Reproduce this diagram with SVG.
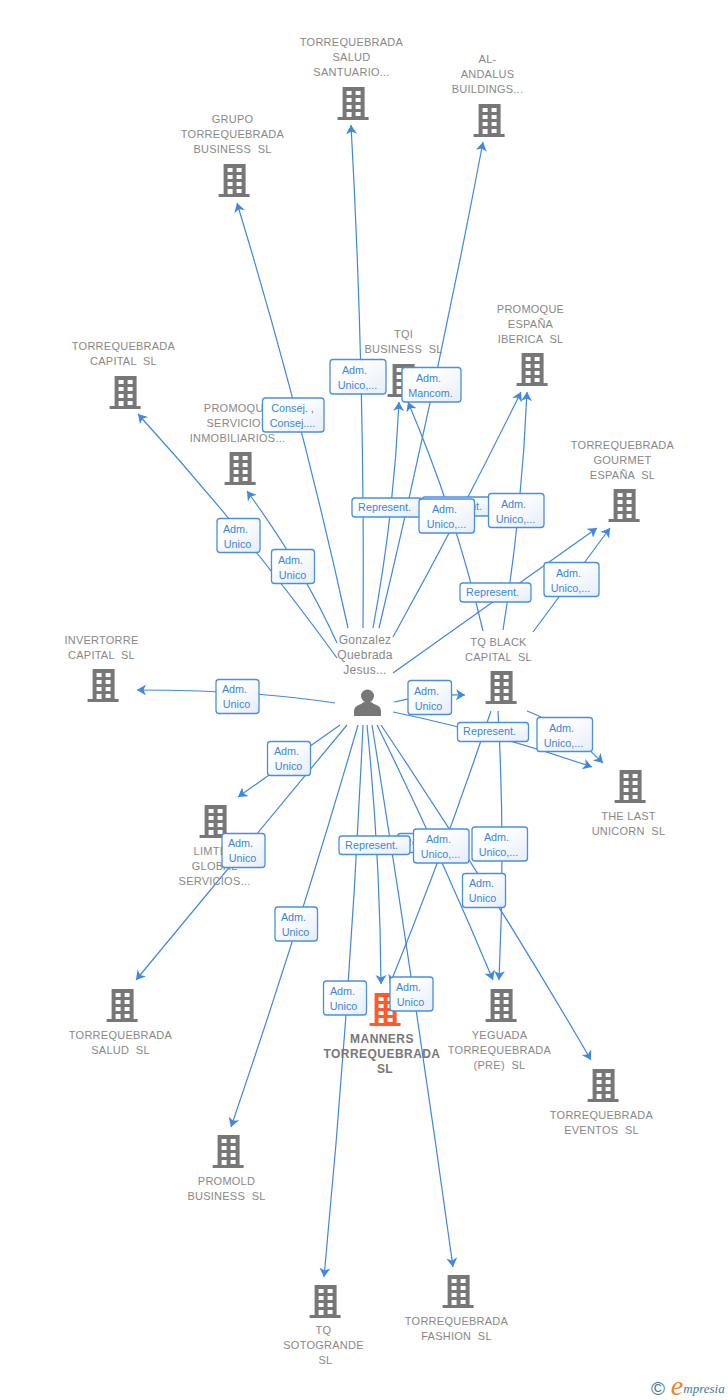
<svg xmlns="http://www.w3.org/2000/svg" width="728" height="1400" viewBox="0 0 728 1400">
<style>
text{font-family:"Liberation Sans",Arial,sans-serif;white-space:pre;text-anchor:middle}
.n{font-size:11px;fill:#888;letter-spacing:.25px;transform:translateX(.5px)}
.m{font-size:12px;fill:#777;font-weight:bold;letter-spacing:.45px}
.p{font-size:12px;fill:#888;letter-spacing:.25px}
.e{fill:none;stroke:#3f87e0;stroke-width:1.2;marker-end:url(#a)}
.b{fill:url(#g);stroke:#4a8ee2;stroke-width:1.3}
.l{font-size:10.8px;fill:#3a86e0;transform:translateX(-.5px)}
.i{fill:#777}
</style>
<defs>
<linearGradient id="g" x1="0" y1="0" x2="1" y2="1"><stop offset="0.3" stop-color="#fff"/><stop offset="1" stop-color="#e6edf8"/></linearGradient>
<marker id="a" markerUnits="userSpaceOnUse" markerWidth="12" markerHeight="14" refX="9" refY="6" orient="auto"><path d="M9,6L0,0.5L2.5,6L0,11.500Z" fill="#3f87e0"/></marker>
<path id="h" fill-rule="evenodd" transform="translate(.6,0)" d="M-11,-16H11V14H15V17H-16V14H-11ZM-7,-12V-8H-2V-12ZM2,-12V-8H7V-12ZM-7,-5V-1H-2V-5ZM2,-5V-1H7V-5ZM-7,2V6H-2V2ZM2,2V6H7V2ZM-7,9V14H-2V9ZM2,9V13H7V9Z"/>
</defs>
<g id="connectors">
<path class="e" d="M348,628Q301.500,414.500 237,203"/>
<path class="e" d="M363,628Q365,377 351,125"/>
<path class="e" d="M373,628Q394,515 399,402"/>
<path class="e" d="M379,628Q437,385 483,142"/>
<path class="e" d="M393,637Q460,516 521,392"/>
<path class="e" d="M483,631Q456,515 408,402"/>
<path class="e" d="M503,630Q522,511 527,392"/>
<path class="e" d="M393,673L597,528"/>
<path class="e" d="M533,632L610,528"/>
<path class="e" d="M337,658Q248,535 138,414"/>
<path class="e" d="M337,643Q302,566 247,491"/>
<path class="e" d="M394,702Q425,694 465,695"/>
<path class="e" d="M393,712Q490,732 592,767"/>
<path class="e" d="M527,711Q565,725 603,763"/>
<path class="e" d="M335,703Q250,690 137,690"/>
<path class="e" d="M340,725L238,797"/>
<path class="e" d="M347,725L136,980"/>
<path class="e" d="M358,725Q299.500,927 231,1127"/>
<path class="e" d="M363,725Q350.500,1001 324,1277"/>
<path class="e" d="M367,725Q380,854 381,984"/>
<path class="e" d="M372,725Q415.500,996 453,1267"/>
<path class="e" d="M377,725Q439,851 493,980"/>
<path class="e" d="M381,725Q492,890 591,1060"/>
<path class="e" d="M491,711Q445,849 390,984"/>
<path class="e" d="M498,711Q505.500,844 499,980"/>
</g>
<g id="n1"><use href="#h" class="i" x="353" y="103"/><text class="n"><tspan x="351" y="46">TORREQUEBRADA</tspan><tspan x="351" y="61">SALUD</tspan><tspan x="351" y="76">SANTUARIO...</tspan></text></g>
<g id="n2"><use href="#h" class="i" x="489" y="120"/><text class="n"><tspan x="487" y="63">AL-</tspan><tspan x="487" y="78">ANDALUS</tspan><tspan x="487" y="93">BUILDINGS...</tspan></text></g>
<g id="n3"><use href="#h" class="i" x="234" y="180"/><text class="n"><tspan x="232" y="123">GRUPO</tspan><tspan x="232" y="138">TORREQUEBRADA</tspan><tspan x="232" y="153">BUSINESS  SL</tspan></text></g>
<g id="n4"><use href="#h" class="i" x="125" y="392"/><text class="n"><tspan x="123" y="350">TORREQUEBRADA</tspan><tspan x="123" y="365">CAPITAL  SL</tspan></text></g>
<g id="n5"><use href="#h" class="i" x="403" y="380"/><text class="n"><tspan x="403" y="338">TQI</tspan><tspan x="403" y="353">BUSINESS  SL</tspan></text></g>
<g id="n6"><use href="#h" class="i" x="240" y="468"/><text class="n"><tspan x="237" y="412">PROMOQUE</tspan><tspan x="237" y="427">SERVICIOS</tspan><tspan x="237" y="442">INMOBILIARIOS...</tspan></text></g>
<g id="n7"><use href="#h" class="i" x="532" y="369"/><text class="n"><tspan x="530" y="313">PROMOQUE</tspan><tspan x="530" y="328">ESPAÑA</tspan><tspan x="530" y="343">IBERICA  SL</tspan></text></g>
<g id="n8"><use href="#h" class="i" x="624" y="505"/><text class="n"><tspan x="622" y="449">TORREQUEBRADA</tspan><tspan x="622" y="464">GOURMET</tspan><tspan x="622" y="479">ESPAÑA  SL</tspan></text></g>
<g id="n9"><use href="#h" class="i" x="103" y="685"/><text class="n"><tspan x="101" y="644">INVERTORRE</tspan><tspan x="101" y="659">CAPITAL  SL</tspan></text></g>
<g id="n10"><use href="#h" class="i" x="501" y="687"/><text class="n"><tspan x="498" y="646">TQ BLACK</tspan><tspan x="498" y="661">CAPITAL  SL</tspan></text></g>
<g id="n11"><use href="#h" class="i" x="630" y="786"/><text class="n"><tspan x="628" y="820">THE LAST</tspan><tspan x="628" y="835">UNICORN  SL</tspan></text></g>
<g id="n12"><use href="#h" class="i" x="215" y="821"/><text class="n"><tspan x="214" y="855">LIMTED</tspan><tspan x="214" y="870">GLOBAL</tspan><tspan x="214" y="885">SERVICIOS...</tspan></text></g>
<g id="n13"><use href="#h" class="i" x="122" y="1005"/><text class="n"><tspan x="120" y="1039">TORREQUEBRADA</tspan><tspan x="120" y="1054">SALUD  SL</tspan></text></g>
<g id="n14"><use href="#h" fill="#ff5a2b" x="385" y="1009"/><text class="m"><tspan x="382" y="1043">MANNERS</tspan><tspan x="382" y="1058">TORREQUEBRADA</tspan><tspan x="385" y="1073">SL</tspan></text></g>
<g id="n15"><use href="#h" class="i" x="501" y="1005"/><text class="n"><tspan x="499" y="1039">YEGUADA</tspan><tspan x="499" y="1054">TORREQUEBRADA</tspan><tspan x="499" y="1069">(PRE)  SL</tspan></text></g>
<g id="n16"><use href="#h" class="i" x="603" y="1085"/><text class="n"><tspan x="601" y="1119">TORREQUEBRADA</tspan><tspan x="601" y="1134">EVENTOS  SL</tspan></text></g>
<g id="n17"><use href="#h" class="i" x="228" y="1151"/><text class="n"><tspan x="226" y="1185">PROMOLD</tspan><tspan x="226" y="1200">BUSINESS  SL</tspan></text></g>
<g id="n18"><use href="#h" class="i" x="325" y="1301"/><text class="n"><tspan x="323" y="1334">TQ</tspan><tspan x="323" y="1349">SOTOGRANDE</tspan><tspan x="325" y="1364">SL</tspan></text></g>
<g id="n19"><use href="#h" class="i" x="458" y="1291"/><text class="n"><tspan x="456" y="1325">TORREQUEBRADA</tspan><tspan x="456" y="1340">FASHION  SL</tspan></text></g>
<g id="person"><circle class="i" cx="367.500" cy="696" r="6.500"/><path class="i" d="M354,716V711Q354,706 361,704L364,702H371L374,704Q381,706 381,711V716Z"/><text class="p"><tspan x="365" y="644">Gonzalez</tspan><tspan x="365" y="659">Quebrada</tspan><tspan x="365" y="674">Jesus...</tspan></text></g>
<g id="labels">
<g><rect class="b" x="330" y="359.500" width="56" height="34.500" rx="3"/><text class="l"><tspan x="355" y="374">Adm.</tspan><tspan x="358" y="389">Unico,...</tspan></text></g>
<g><rect class="b" x="402" y="367.500" width="59" height="34.500" rx="3"/><text class="l"><tspan x="429" y="382">Adm.</tspan><tspan x="431" y="397">Mancom.</tspan></text></g>
<g><rect class="b" x="262.500" y="398" width="61.500" height="34" rx="3"/><text class="l"><tspan x="293" y="412">Consej. ,</tspan><tspan x="293" y="427">Consej....</tspan></text></g>
<g><rect class="b" x="352" y="498" width="70" height="19" rx="3"/><text class="l" x="385" y="511">Represent.</text></g>
<g><rect class="b" x="422" y="497" width="71" height="19" rx="3"/><text class="l" x="456" y="510">Represent.</text></g>
<g><rect class="b" x="419" y="499" width="55.500" height="34" rx="3"/><text class="l"><tspan x="445" y="513">Adm.</tspan><tspan x="447" y="528">Unico,...</tspan></text></g>
<g><rect class="b" x="488.500" y="493.500" width="55.500" height="34" rx="3"/><text class="l"><tspan x="514" y="508">Adm.</tspan><tspan x="516" y="523">Unico,...</tspan></text></g>
<g><rect class="b" x="460" y="583" width="71" height="19" rx="3"/><text class="l" x="493" y="596">Represent.</text></g>
<g><rect class="b" x="544" y="562.500" width="55" height="34" rx="3"/><text class="l"><tspan x="569" y="577">Adm.</tspan><tspan x="571" y="592">Unico,...</tspan></text></g>
<g><rect class="b" x="408" y="680.500" width="43.500" height="34" rx="3"/><text class="l"><tspan x="427" y="695">Adm.</tspan><tspan x="429" y="710">Unico</tspan></text></g>
<g><rect class="b" x="457.500" y="722.500" width="71" height="19" rx="3"/><text class="l" x="490" y="735">Represent.</text></g>
<g><rect class="b" x="537" y="717.500" width="55.500" height="34" rx="3"/><text class="l"><tspan x="562" y="732">Adm.</tspan><tspan x="564" y="747">Unico,...</tspan></text></g>
<g><rect class="b" x="217" y="518.500" width="43" height="34" rx="3"/><text class="l"><tspan x="236" y="533">Adm.</tspan><tspan x="238" y="548">Unico</tspan></text></g>
<g><rect class="b" x="271.500" y="549.500" width="43" height="34" rx="3"/><text class="l"><tspan x="291" y="564">Adm.</tspan><tspan x="293" y="579">Unico</tspan></text></g>
<g><rect class="b" x="216" y="679.500" width="43" height="34" rx="3"/><text class="l"><tspan x="235" y="693">Adm.</tspan><tspan x="237" y="708">Unico</tspan></text></g>
<g><rect class="b" x="267.500" y="741.500" width="43" height="34" rx="3"/><text class="l"><tspan x="287" y="755">Adm.</tspan><tspan x="289" y="770">Unico</tspan></text></g>
<g><rect class="b" x="222" y="833.500" width="43" height="34" rx="3"/><text class="l"><tspan x="241" y="847">Adm.</tspan><tspan x="243" y="862">Unico</tspan></text></g>
<g><rect class="b" x="275" y="907" width="42.500" height="34" rx="3"/><text class="l"><tspan x="294" y="921">Adm.</tspan><tspan x="296" y="936">Unico</tspan></text></g>
<g><rect class="b" x="323.500" y="981" width="43" height="34" rx="3"/><text class="l"><tspan x="343" y="995">Adm.</tspan><tspan x="344" y="1010">Unico</tspan></text></g>
<g><rect class="b" x="390" y="977" width="43" height="34" rx="3"/><text class="l"><tspan x="409" y="991">Adm.</tspan><tspan x="411" y="1006">Unico</tspan></text></g>
<g><rect class="b" x="397.500" y="833.500" width="71" height="19" rx="3"/><text class="l" x="431" y="846">Represent.</text></g>
<g><rect class="b" x="339" y="836" width="71" height="18.500" rx="3"/><text class="l" x="372" y="849">Represent.</text></g>
<g><rect class="b" x="413.500" y="829" width="55.500" height="34" rx="3"/><text class="l"><tspan x="439" y="843">Adm.</tspan><tspan x="441" y="858">Unico,...</tspan></text></g>
<g><rect class="b" x="472" y="827" width="55.500" height="34" rx="3"/><text class="l"><tspan x="497" y="841">Adm.</tspan><tspan x="499" y="856">Unico,...</tspan></text></g>
<g><rect class="b" x="462.500" y="873.500" width="43" height="34" rx="3"/><text class="l"><tspan x="482" y="887">Adm.</tspan><tspan x="483" y="902">Unico</tspan></text></g>
</g>
<g id="logo">
<text x="658" y="1395" style="font-size:19px;fill:#3d7a90">©</text>
<text x="677" y="1395" style="font-family:'Liberation Serif',serif;font-style:italic;font-size:28px;fill:#f58220">e</text>
<text x="704" y="1393" style="font-family:'Liberation Serif',serif;font-style:italic;font-size:13px;fill:#3d7a90">mpresia</text>
</g>
</svg>
